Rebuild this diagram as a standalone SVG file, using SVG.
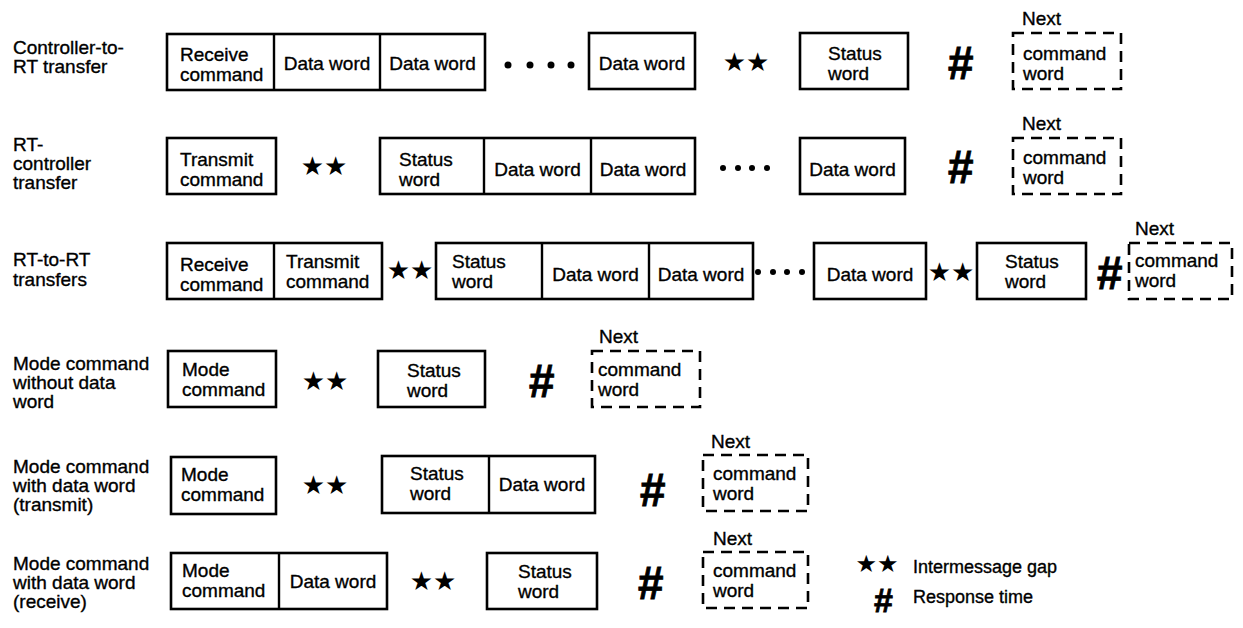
<svg xmlns="http://www.w3.org/2000/svg" width="1243" height="628" viewBox="0 0 1243 628">
<style>
.t{font-family:"Liberation Sans",Arial,sans-serif;font-size:19px;fill:#000;stroke:#000;stroke-width:0.35}
.m{text-anchor:middle}
.box{fill:#fff;stroke:#000;stroke-width:2.6}
.dash{fill:none;stroke:#000;stroke-width:2.6;stroke-dasharray:11 7}
.dv{stroke:#000;stroke-width:2.4}
.star{font-family:"DejaVu Sans",sans-serif;font-size:26px;text-anchor:middle;dominant-baseline:central;fill:#000}
.hash{font-family:"Liberation Sans",Arial,sans-serif;font-weight:bold;font-style:italic;font-size:46px;text-anchor:middle;dominant-baseline:central;fill:#000;stroke:#000;stroke-width:0.8}
.dot{fill:#000}
</style>
<rect width="1243" height="628" fill="#fff"/>

<!-- Row 1 -->
<g id="label-r1"><text class="t" x="13" y="54">Controller-to-</text><text class="t" x="13" y="73">RT transfer</text></g>
<g id="r1-msg"><rect class="box" x="167" y="34" width="318" height="56"/><line class="dv" x1="274" y1="34" x2="274" y2="90"/><line class="dv" x1="380" y1="34" x2="380" y2="90"/>
<text class="t" x="180" y="61">Receive</text><text class="t" x="180" y="81">command</text>
<text class="t m" x="327" y="70">Data word</text><text class="t m" x="432.5" y="70">Data word</text></g>
<g id="r1-dots"><circle class="dot" cx="508" cy="65" r="3.5"/><circle class="dot" cx="530" cy="65" r="3.5"/><circle class="dot" cx="551" cy="65" r="3.5"/><circle class="dot" cx="571" cy="65" r="3.5"/></g>
<g id="r1-data"><rect class="box" x="589" y="33" width="106" height="56"/><text class="t m" x="642" y="70">Data word</text></g>
<g id="r1-gap"><text class="star" x="746" y="62">★★</text></g>
<g id="r1-status"><rect class="box" x="800" y="33" width="108" height="56"/><text class="t" x="828" y="60">Status</text><text class="t" x="828" y="80">word</text></g>
<g id="r1-resp"><text class="hash" x="960" y="63">#</text></g>
<g id="r1-next"><text class="t" x="1022" y="25">Next</text><rect class="dash" x="1013" y="33" width="108" height="56"/><text class="t" x="1023" y="60">command</text><text class="t" x="1023" y="80">word</text></g>

<!-- Row 2 -->
<g id="label-r2"><text class="t" x="13" y="151">RT-</text><text class="t" x="13" y="170">controller</text><text class="t" x="13" y="189">transfer</text></g>
<g id="r2-cmd"><rect class="box" x="167" y="138" width="109" height="56"/><text class="t" x="180" y="166">Transmit</text><text class="t" x="180" y="186">command</text></g>
<g id="r2-gap"><text class="star" x="324" y="166">★★</text></g>
<g id="r2-msg"><rect class="box" x="380" y="138" width="315" height="56"/><line class="dv" x1="484" y1="138" x2="484" y2="194"/><line class="dv" x1="591" y1="138" x2="591" y2="194"/>
<text class="t" x="399" y="166">Status</text><text class="t" x="399" y="186">word</text>
<text class="t m" x="537.5" y="176">Data word</text><text class="t m" x="643" y="176">Data word</text></g>
<g id="r2-dots"><circle class="dot" cx="723" cy="168" r="3"/><circle class="dot" cx="738" cy="168" r="3"/><circle class="dot" cx="752" cy="168" r="3"/><circle class="dot" cx="767" cy="168" r="3"/></g>
<g id="r2-data"><rect class="box" x="800" y="138" width="105" height="56"/><text class="t m" x="852.5" y="176">Data word</text></g>
<g id="r2-resp"><text class="hash" x="960" y="167">#</text></g>
<g id="r2-next"><text class="t" x="1022" y="130">Next</text><rect class="dash" x="1013" y="138" width="108" height="56"/><text class="t" x="1023" y="164">command</text><text class="t" x="1023" y="184">word</text></g>

<!-- Row 3 -->
<g id="label-r3"><text class="t" x="13" y="266">RT-to-RT</text><text class="t" x="13" y="286">transfers</text></g>
<g id="r3-cmds"><rect class="box" x="167" y="243" width="215" height="56"/><line class="dv" x1="274" y1="243" x2="274" y2="299"/>
<text class="t" x="180" y="271">Receive</text><text class="t" x="180" y="291">command</text>
<text class="t" x="286" y="268">Transmit</text><text class="t" x="286" y="288">command</text></g>
<g id="r3-gap1"><text class="star" x="410" y="270">★★</text></g>
<g id="r3-msg"><rect class="box" x="436" y="243" width="317" height="56"/><line class="dv" x1="542" y1="243" x2="542" y2="299"/><line class="dv" x1="649" y1="243" x2="649" y2="299"/>
<text class="t" x="452" y="268">Status</text><text class="t" x="452" y="288">word</text>
<text class="t m" x="595.5" y="281">Data word</text><text class="t m" x="701" y="281">Data word</text></g>
<g id="r3-dots"><circle class="dot" cx="758" cy="272" r="3"/><circle class="dot" cx="773" cy="272" r="3"/><circle class="dot" cx="787" cy="272" r="3"/><circle class="dot" cx="802" cy="272" r="3"/></g>
<g id="r3-data"><rect class="box" x="814" y="243" width="112" height="56"/><text class="t m" x="870" y="281">Data word</text></g>
<g id="r3-gap2"><text class="star" x="951" y="272">★★</text></g>
<g id="r3-status"><rect class="box" x="977" y="243" width="109" height="56"/><text class="t" x="1005" y="268">Status</text><text class="t" x="1005" y="288">word</text></g>
<g id="r3-resp"><text class="hash" x="1109" y="273">#</text></g>
<g id="r3-next"><text class="t" x="1135" y="235">Next</text><rect class="dash" x="1129" y="243" width="103" height="56"/><text class="t" x="1135" y="267">command</text><text class="t" x="1135" y="287">word</text></g>

<!-- Row 4 -->
<g id="label-r4"><text class="t" x="13" y="370">Mode command</text><text class="t" x="13" y="389">without data</text><text class="t" x="13" y="408">word</text></g>
<g id="r4-mode"><rect class="box" x="168" y="351" width="108" height="56"/><text class="t" x="182" y="376">Mode</text><text class="t" x="182" y="396">command</text></g>
<g id="r4-gap"><text class="star" x="325" y="381">★★</text></g>
<g id="r4-status"><rect class="box" x="378" y="351" width="107" height="56"/><text class="t" x="407" y="377">Status</text><text class="t" x="407" y="397">word</text></g>
<g id="r4-resp"><text class="hash" x="541" y="381">#</text></g>
<g id="r4-next"><text class="t" x="599" y="343">Next</text><rect class="dash" x="592" y="351" width="108" height="56"/><text class="t" x="598" y="376">command</text><text class="t" x="598" y="396">word</text></g>

<!-- Row 5 -->
<g id="label-r5"><text class="t" x="13" y="473">Mode command</text><text class="t" x="13" y="492">with data word</text><text class="t" x="13" y="511">(transmit)</text></g>
<g id="r5-mode"><rect class="box" x="171" y="457" width="105" height="57"/><text class="t" x="181" y="481">Mode</text><text class="t" x="181" y="501">command</text></g>
<g id="r5-gap"><text class="star" x="325" y="485">★★</text></g>
<g id="r5-msg"><rect class="box" x="382" y="456" width="213" height="57"/><line class="dv" x1="489" y1="456" x2="489" y2="513"/>
<text class="t" x="410" y="480">Status</text><text class="t" x="410" y="500">word</text>
<text class="t m" x="542" y="491">Data word</text></g>
<g id="r5-resp"><text class="hash" x="652" y="490">#</text></g>
<g id="r5-next"><text class="t" x="711" y="448">Next</text><rect class="dash" x="703" y="455" width="105" height="56"/><text class="t" x="713" y="480">command</text><text class="t" x="713" y="500">word</text></g>

<!-- Row 6 -->
<g id="label-r6"><text class="t" x="13" y="570">Mode command</text><text class="t" x="13" y="589">with data word</text><text class="t" x="13" y="608">(receive)</text></g>
<g id="r6-msg"><rect class="box" x="171" y="553" width="216" height="56"/><line class="dv" x1="279" y1="553" x2="279" y2="609"/>
<text class="t" x="182" y="577">Mode</text><text class="t" x="182" y="597">command</text>
<text class="t m" x="333" y="588">Data word</text></g>
<g id="r6-gap"><text class="star" x="433" y="581">★★</text></g>
<g id="r6-status"><rect class="box" x="487" y="553" width="110" height="56"/><text class="t" x="518" y="578">Status</text><text class="t" x="518" y="598">word</text></g>
<g id="r6-resp"><text class="hash" x="650" y="583">#</text></g>
<g id="r6-next"><text class="t" x="713" y="545">Next</text><rect class="dash" x="703" y="552" width="105" height="56"/><text class="t" x="713" y="577">command</text><text class="t" x="713" y="597">word</text></g>

<!-- Legend -->
<g id="legend">
<text class="star" x="877" y="564" style="font-size:24px">★★</text><text class="t" x="913" y="573" style="font-size:18px">Intermessage gap</text>
<text class="hash" x="883" y="600" style="font-size:34px">#</text><text class="t" x="913" y="603" style="font-size:18px">Response time</text>
</g>
</svg>
